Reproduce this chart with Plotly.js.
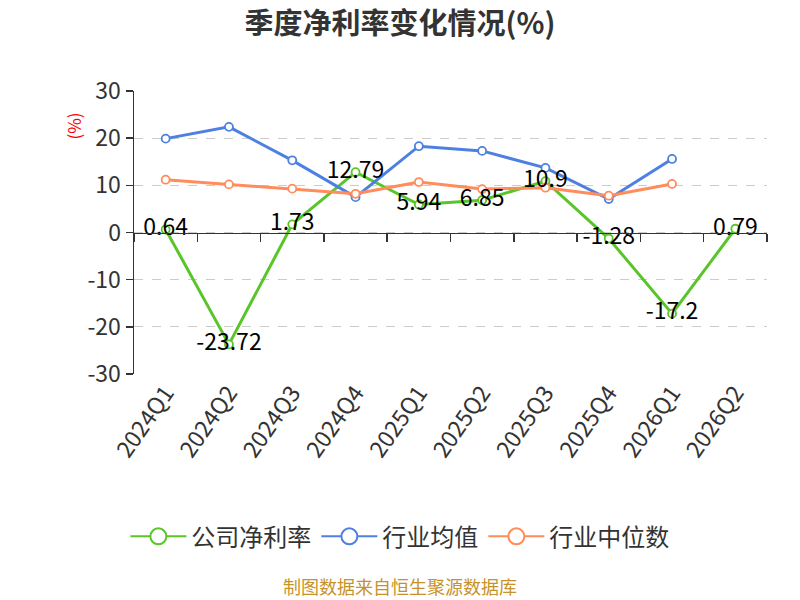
<!DOCTYPE html>
<html>
<head>
<meta charset="utf-8">
<script src="https://cdn.plot.ly/plotly-3.0.1.min.js"></script>
<style>html,body{margin:0;padding:0;background:#fff;}#chart{width:800px;height:600px;}</style>
</head>
<body>
<div id="chart"></div>
<script>
const categories = ["2024Q1","2024Q2","2024Q3","2024Q4","2025Q1","2025Q2","2025Q3","2025Q4","2026Q1","2026Q2"];
const companyMargin = [0.64, -23.72, 1.73, 12.79, 5.94, 6.85, 10.9, -1.28, -17.2, 0.79];
const industryMean = [19.9, 22.4, 15.3, 7.5, 18.3, 17.3, 13.7, 7.1, 15.6, null];
const industryMedian = [11.2, 10.2, 9.3, 8.2, 10.7, 9.2, 9.5, 7.8, 10.3, null];
const yTicks = [-30, -20, -10, 0, 10, 20, 30];
const yTickText = ["-30", "-20", "-10", "0", "10", "20", "30"];
const seriesNames = ["公司净利率", "行业均值", "行业中位数"];
const colors = ["#5ac52a", "#4e80e2", "#ff8c5a"];

const FONT = "Noto Sans CJK SC, Noto Sans, sans-serif";
const idx = categories.map((c, i) => i);

function lineTrace(y, name, color) {
  return {
    type: "scatter", mode: "lines+markers", x: idx, y: y, name: name,
    line: {color: color, width: 3},
    marker: {symbol: "circle", size: 8, color: "#fff", line: {color: color, width: 1.8}},
    connectgaps: false, hoverinfo: "skip", showlegend: false
  };
}
function legendTrace(name, color) {
  return {
    type: "scatter", mode: "lines+markers", x: [null], y: [null], name: name,
    line: {color: color, width: 2},
    marker: {symbol: "circle", size: 16, color: "#fff", line: {color: color, width: 2}},
    hoverinfo: "skip", showlegend: true
  };
}

const data = [
  lineTrace(companyMargin, seriesNames[0], colors[0]),
  lineTrace(industryMean, seriesNames[1], colors[1]),
  lineTrace(industryMedian, seriesNames[2], colors[2]),
  {
    type: "scatter", mode: "text", x: idx, y: companyMargin,
    text: companyMargin.map(v => String(v)), textposition: "middle center",
    textfont: {family: FONT, size: 23, color: "#000"},
    showlegend: false, hoverinfo: "skip", cliponaxis: false
  },
  {
    type: "scatter", mode: "markers", x: [idx[0]], y: [0], xaxis: "x2",
    marker: {opacity: 0, size: 1}, showlegend: false, hoverinfo: "skip"
  },
  legendTrace(seriesNames[0], colors[0]),
  legendTrace(seriesNames[1], colors[1]),
  legendTrace(seriesNames[2], colors[2])
];

const layout = {
  width: 800, height: 600,
  margin: {l: 134, r: 33, t: 91, b: 226},
  paper_bgcolor: "#fff", plot_bgcolor: "#fff",
  font: {family: FONT, color: "#333"},
  title: {text: "<b>季度净利率变化情况(%)</b>", x: 0.5, xanchor: "center", y: 0.96, yanchor: "middle",
          font: {family: FONT, size: 29, color: "#333"}},
  xaxis: {
    type: "linear", range: [-0.5, 9.5], tickmode: "array", tickvals: idx, ticktext: categories,
    tickangle: -55, tickfont: {family: FONT, size: 23, color: "#333"},
    showgrid: false, zeroline: false, showline: false, ticks: "", fixedrange: true
  },
  xaxis2: {
    type: "linear", range: [-0.5, 9.5], overlaying: "x", anchor: "free", position: 0.5,
    tickmode: "linear", tick0: -0.5, dtick: 1, ticks: "outside", ticklen: 8, tickwidth: 1.5, tickcolor: "#333",
    showticklabels: false, showgrid: false, zeroline: false, side: "bottom",
    showline: true, linecolor: "#333", linewidth: 1.5
  },
  yaxis: {
    range: [-30, 30], tickmode: "array", tickvals: yTicks, ticktext: yTickText,
    tickfont: {family: FONT, size: 23, color: "#333"},
    ticks: "outside", ticklen: 7, tickwidth: 1.5, tickcolor: "#333",
    showline: true, linecolor: "#333", linewidth: 1.5,
    showgrid: true, gridcolor: "#cccccc", griddash: "dash", gridwidth: 1,
    zeroline: false, fixedrange: true
  },
  showlegend: true,
  legend: {orientation: "h", x: 0.42, xanchor: "center", y: -0.575, yanchor: "middle",
           font: {family: FONT, size: 24, color: "#333"}, itemwidth: 56, tracegroupgap: 0},
  annotations: [
    {text: "(%)", xref: "paper", yref: "paper", x: -0.096, y: 0.875, xanchor: "center", yanchor: "middle",
     showarrow: false, textangle: -90, font: {family: FONT, size: 17, color: "#ff0000"}},
    {text: "制图数据来自恒生聚源数据库", xref: "paper", yref: "paper", x: 0.42, y: -0.75,
     xanchor: "center", yanchor: "middle", showarrow: false,
     font: {family: FONT, size: 18, color: "#c8922a"}}
  ]
};

Plotly.newPlot("chart", data, layout, {displayModeBar: false, staticPlot: true});
</script>
</body>
</html>
